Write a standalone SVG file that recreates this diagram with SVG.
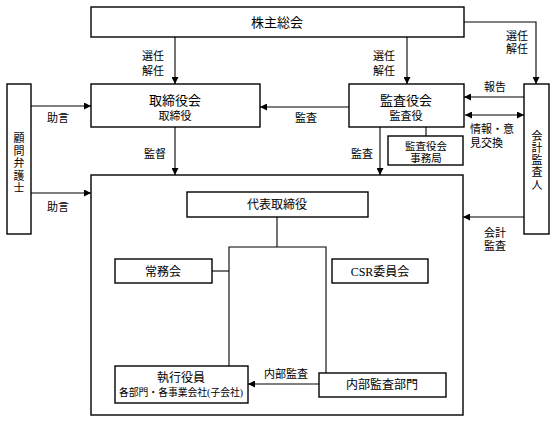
<svg xmlns="http://www.w3.org/2000/svg" width="554" height="421" viewBox="0 0 554 421">
<style>
.box{fill:#fff;stroke:#000;stroke-width:1.4}
.ln{fill:none;stroke:#000;stroke-width:1.1}
.ar{marker-end:url(#ah)}
text{font-family:"Liberation Serif","Noto Sans CJK JP",serif;fill:#000;text-anchor:middle}
.t13{font-size:13px}
.t12{font-size:12px}
.t11{font-size:11px}
.t10{font-size:10.5px}
.t9{font-size:9.8px}
</style>
<defs>
<marker id="ah" viewBox="0 0 10 10" refX="10" refY="5" markerUnits="userSpaceOnUse" markerWidth="9" markerHeight="7" orient="auto-start-reverse">
<path d="M0,0 L10,5 L0,10 z" fill="#000"/>
</marker>
</defs>
<rect x="0" y="0" width="554" height="421" fill="#fff"/>

<g id="connectors">
<path class="ln ar" d="M175,37 V84"/>
<path class="ln ar" d="M407,37 V84"/>
<path class="ln ar" d="M464,22 H536 V84"/>
<path class="ln ar" d="M524,97 H464"/>
<path class="ln ar" d="M465,115 H524" style="marker-start:url(#ah)"/>
<path class="ln ar" d="M349,107 H260"/>
<path class="ln ar" d="M380,127 V175"/>
<path class="ln" d="M426,127 V136"/>
<path class="ln ar" d="M31,106 H91"/>
<path class="ln ar" d="M31,193 H91"/>
<path class="ln ar" d="M175,127 V175"/>
<path class="ln ar" d="M524,217 H463"/>
<path class="ln" d="M277,217 V247"/>
<path class="ln" d="M229,366 V247 H326 V373"/>
<path class="ln" d="M212,271 H229"/>
<path class="ln ar" d="M319,384 H248"/>
<text class="t11" x="153" y="60">選任</text>
<text class="t11" x="153" y="75">解任</text>
<text class="t11" x="384" y="60">選任</text>
<text class="t11" x="384" y="75">解任</text>
<text class="t11" x="517" y="40">選任</text>
<text class="t11" x="517" y="53">解任</text>
<text class="t11" x="495" y="91">報告</text>
<text class="t11" x="470" y="133" style="text-anchor:start">情報・意</text>
<text class="t11" x="470" y="147" style="text-anchor:start">見交換</text>
<text class="t11" x="306" y="122">監査</text>
<text class="t11" x="362" y="158">監査</text>
<text class="t11" x="155" y="158">監督</text>
<text class="t11" x="58" y="122">助言</text>
<text class="t11" x="58" y="211">助言</text>
<text class="t11" x="495" y="237">会計</text>
<text class="t11" x="495" y="250">監査</text>
<text class="t11" x="286" y="378">内部監査</text>
</g>

<g id="shareholders">
<rect class="box" x="91" y="7" width="373" height="30"/>
<text class="t13" x="277" y="27">株主総会</text>
</g>

<g id="board">
<rect class="box" x="91" y="84" width="169" height="43"/>
<text class="t13" x="175" y="105">取締役会</text>
<text class="t11" x="175" y="120">取締役</text>
</g>

<g id="auditors">
<rect class="box" x="349" y="84" width="115" height="43"/>
<text class="t13" x="406" y="105">監査役会</text>
<text class="t11" x="406" y="120">監査役</text>
</g>

<g id="audit-office">
<rect class="box" x="388" y="136" width="75" height="29"/>
<text class="t10" x="426" y="150">監査役会</text>
<text class="t10" x="426" y="162">事務局</text>
</g>

<g id="accounting-auditor">
<rect class="box" x="524" y="84" width="25" height="150"/>
<text class="t11" x="537" y="140">会</text>
<text class="t11" x="537" y="152">計</text>
<text class="t11" x="537" y="164">監</text>
<text class="t11" x="537" y="176">査</text>
<text class="t11" x="537" y="189">人</text>
</g>

<g id="legal-advisor">
<rect class="box" x="7" y="84" width="24" height="150"/>
<text class="t11" x="19" y="142">顧</text>
<text class="t11" x="19" y="155">問</text>
<text class="t11" x="19" y="167">弁</text>
<text class="t11" x="19" y="180">護</text>
<text class="t11" x="19" y="192">士</text>
</g>

<g id="executive-area">
<rect class="box" x="91" y="175" width="372" height="240" style="fill:none"/>
</g>

<g id="representative-director">
<rect class="box" x="187" y="192" width="181" height="25"/>
<text class="t12" x="277" y="209">代表取締役</text>
</g>

<g id="managing-committee">
<rect class="box" x="115" y="259" width="97" height="24"/>
<text class="t12" x="163" y="276">常務会</text>
</g>

<g id="csr-committee">
<rect class="box" x="332" y="259" width="96" height="24"/>
<text class="t12" x="380" y="276">CSR委員会</text>
</g>

<g id="executive-officers">
<rect class="box" x="115" y="366" width="133" height="37"/>
<text class="t12" x="181" y="382">執行役員</text>
<text class="t9" x="181" y="396">各部門・各事業会社(子会社)</text>
</g>

<g id="internal-audit">
<rect class="box" x="319" y="373" width="127" height="24"/>
<text class="t12" x="382" y="389">内部監査部門</text>
</g>
</svg>
